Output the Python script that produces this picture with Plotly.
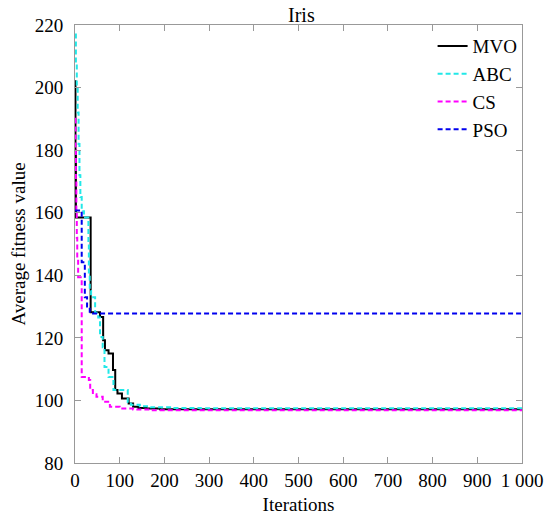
import plotly.graph_objects as go

# Data (step curves: iteration breakpoints and values)
mvo_x = [0, 1, 2, 35, 56, 63, 67, 75, 85, 90, 95, 105, 120, 130, 142, 160, 190, 1000]
mvo_y = [202, 180, 158.5, 128.2, 126.7, 119.2, 116, 115, 109.7, 103.3, 102.2, 100.6, 99, 98, 97.6, 97.4, 97.2, 97.2]

abc_x = [0, 2, 4, 6, 8, 10, 12, 15, 20, 30, 31, 33, 36, 45, 52, 56, 62, 66, 75, 86, 118, 125, 145, 170, 220, 280, 1000]
abc_y = [217, 208, 200, 192, 182, 172, 165, 160.5, 158.5, 150, 140, 135, 133, 128, 126.5, 120.3, 117, 110.7, 107.5, 103.3, 99.5, 98.6, 98.1, 97.8, 97.6, 97.5, 97.5]

cs_x = [0, 1, 2, 3, 4, 5, 7, 15, 31, 34, 40, 48, 62, 78, 100, 130, 170, 1000]
cs_y = [190, 180, 170, 160, 152, 145, 139.4, 107.5, 106.5, 103.3, 102, 101.2, 99.6, 98, 97.4, 97.1, 96.9, 96.9]

pso_x = [0, 15, 22, 27, 33, 1000]
pso_y = [160.7, 144.2, 133, 130, 127.8, 127.8]

x_ticks = [0, 100, 200, 300, 400, 500, 600, 700, 800, 900, 1000]
x_ticktext = ["0", "100", "200", "300", "400", "500", "600", "700", "800", "900", "1 000"]
y_ticks = [80, 100, 120, 140, 160, 180, 200, 220]

series = [
    ("MVO", mvo_x, mvo_y, "black", "solid"),
    ("ABC", abc_x, abc_y, "#22E8E8", "5px,3px"),
    ("CS", cs_x, cs_y, "#FF00FF", "5px,3px"),
    ("PSO", pso_x, pso_y, "#0000EE", "5px,3px"),
]

fig = go.Figure()
for name, xs, ys, color, dash in series:
    fig.add_trace(go.Scatter(
        x=xs, y=ys, name=name, mode="lines",
        line=dict(color=color, width=2, dash=dash, shape="hv"),
    ))

font_family = "Times New Roman"
axis_common = dict(
    showline=True, linecolor="#999999", linewidth=1, mirror="ticks",
    ticks="inside", ticklen=6, tickcolor="#999999", showgrid=False, zeroline=False,
    automargin=False,
    tickfont=dict(family=font_family, size=19, color="black"),
)

fig.update_layout(
    width=552, height=515,
    margin=dict(l=75, r=30, t=25, b=52),
    plot_bgcolor="white", paper_bgcolor="white",
    font=dict(family=font_family, color="black"),
    title=dict(text="Iris", x=0.546, xanchor="center", y=0.971, yanchor="middle",
               font=dict(family=font_family, size=20, color="black")),
    xaxis=dict(range=[0, 1000], tickvals=x_ticks, ticktext=x_ticktext,
               title=dict(text="Iterations",
                          font=dict(family=font_family, size=19, color="black")),
               **axis_common),
    yaxis=dict(range=[80, 220], tickvals=y_ticks, ticklabelstandoff=7,
               title=dict(text="Average fitness value", standoff=4,
                          font=dict(family=font_family, size=19, color="black")),
               **axis_common),
    legend=dict(x=0.80, y=0.995, xanchor="left", yanchor="top",
                bgcolor="rgba(0,0,0,0)", borderwidth=0, tracegroupgap=0,
                font=dict(family=font_family, size=19, color="black")),
    showlegend=True,
)

fig.write_html("out.html")
